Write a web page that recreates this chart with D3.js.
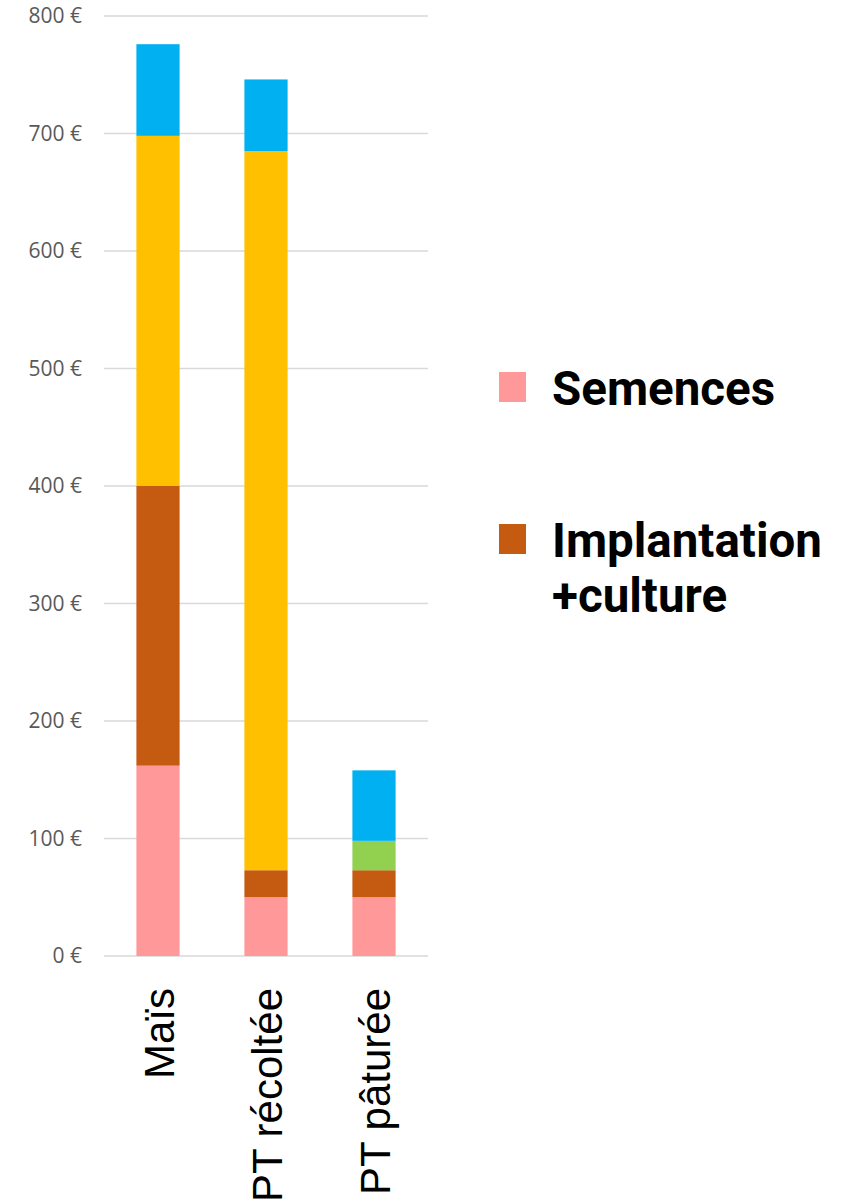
<!DOCTYPE html>
<html>
<head>
<meta charset="utf-8">
<script src="https://cdn.jsdelivr.net/npm/d3@7"></script>
<style>
body { margin: 0; background: #fff; }
svg { display: block; }
</style>
</head>
<body>
<svg id="chart" width="846" height="1202"></svg>
<script>
const categories = ["Maïs", "PT récoltée", "PT pâturée"];
const seriesNames = ["Semences", "Implantation +culture", "Série 3", "Série 4", "Série 5"];
const semences = [162, 50, 50];
const implantation = [238, 23, 23];
const serie3 = [0, 0, 25];
const serie4 = [298, 612, 0];
const serie5 = [78, 61, 60];
const seriesColors = ["#FF9999", "#C55A11", "#92D050", "#FFC000", "#00B0F0"];
const yTicks = [0, 100, 200, 300, 400, 500, 600, 700, 800];
const legendItems = [
  { lines: ["Semences"], color: "#FF9999" },
  { lines: ["Implantation", "+culture"], color: "#C55A11" }
];

const allSeries = [semences, implantation, serie3, serie4, serie5];
const table = categories.map((c, i) => {
  const row = { cat: c };
  seriesNames.forEach((s, j) => row[s] = allSeries[j][i]);
  return row;
});
const stacked = d3.stack().keys(seriesNames)(table);

const svg = d3.select("#chart");
const x0 = 104, x1 = 428, yBottom = 956, yTop = 16;

const x = d3.scaleBand().domain(categories).range([x0, x1]).paddingInner(0.6).paddingOuter(0.3);
const y = d3.scaleLinear().domain([0, 800]).range([yBottom, yTop]);

// gridlines
svg.append("g").selectAll("line").data(yTicks).join("line")
  .attr("x1", x0).attr("x2", x1)
  .attr("y1", d => y(d)).attr("y2", d => y(d))
  .attr("stroke", "#d9d9d9").attr("stroke-width", 1.5);

// y axis labels
const yAxis = d3.axisLeft(y).tickValues(yTicks).tickSize(0).tickPadding(0)
  .tickFormat(d => d + " €");
const gy = svg.append("g").attr("transform", `translate(${82},0)`).call(yAxis);
gy.select(".domain").remove();
gy.selectAll("text")
  .attr("font-family", "'Open Sans', 'Liberation Sans', sans-serif")
  .attr("font-size", 21)
  .attr("fill", "#595959");

// bars
svg.append("g").selectAll("g").data(stacked).join("g")
  .attr("fill", (d, i) => seriesColors[i])
  .selectAll("rect").data(d => d).join("rect")
  .attr("x", d => x(d.data.cat))
  .attr("width", x.bandwidth())
  .attr("y", d => y(d[1]))
  .attr("height", d => Math.max(0, y(d[0]) - y(d[1])));

// category labels (rotated)
const gx = svg.append("g").attr("transform", `translate(0,${988})`);
gx.selectAll("text").data(categories).join("text")
  .attr("transform", d => `translate(${x(d) + x.bandwidth() / 2 + 16},0) rotate(-90)`)
  .attr("text-anchor", "end")
  .attr("font-family", "'Liberation Sans', Arial, sans-serif")
  .attr("font-size", 42)
  .attr("fill", "#000")
  .text(d => d);

// legend
const legendTops = [372, 524];
const lg = svg.append("g");
legendItems.forEach((item, i) => {
  const top = legendTops[i];
  lg.append("rect").attr("x", 499).attr("y", top).attr("width", 27).attr("height", 30).attr("fill", item.color);
  const t = lg.append("text")
    .attr("font-family", "Roboto, sans-serif")
    .attr("font-weight", 700)
    .attr("font-size", 47.5)
    .attr("fill", "#000");
  item.lines.forEach((ln, k) => {
    t.append("tspan").attr("x", 552).attr("y", top + 33 + k * 55).text(ln);
  });
});
</script>
</body>
</html>
